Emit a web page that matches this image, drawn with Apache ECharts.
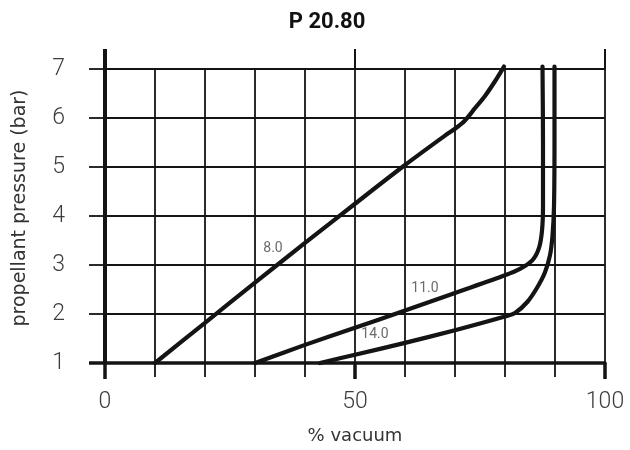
<!DOCTYPE html>
<html>
<head>
<meta charset="utf-8">
<script src="https://cdn.jsdelivr.net/npm/echarts@6/dist/echarts.min.js"></script>
<style>
  html, body { margin: 0; padding: 0; background: #fff; }
  #chart { width: 630px; height: 450px; }
</style>
</head>
<body>
<div id="chart"></div>
<script>
// ---- data ----
const titleText = 'P 20.80';
const xName = '% vacuum';
const yName = 'propellant pressure (bar)';
const xTickLabels = [0, 50, 100];
const yTickLabels = [1, 2, 3, 4, 5, 6, 7];

const curveNames = ['8.0', '11.0', '14.0'];
const curve80 = [[10, 1], [20, 1.82], [30, 2.64], [40, 3.45], [50, 4.25], [60, 5.04], [68, 5.64], [70, 5.78], [72, 5.95], [74, 6.2], [76, 6.45], [78, 6.75], [79.8, 7.05]];
const curve110 = [[30, 1], [40, 1.37], [50, 1.72], [60, 2.07], [70, 2.43], [80, 2.79], [83, 2.92], [85.5, 3.1], [86.8, 3.35], [87.4, 3.7], [87.6, 4.2], [87.6, 5.5], [87.5, 7.05]];
const curve140 = [[43, 1], [50, 1.17], [60, 1.41], [70, 1.67], [80, 1.95], [82, 2.02], [84.5, 2.25], [86.5, 2.55], [88, 2.85], [89, 3.2], [89.5, 3.6], [89.8, 4.2], [89.9, 5.5], [89.9, 7.05]];
const curveLabelPos = [[33.6, 3.33], [64, 2.53], [54, 1.58]];

// ---- chart ----
const chart = echarts.init(document.getElementById('chart'), null, { renderer: 'canvas' });
const ink = '#141414';
const tickFont = "Roboto, 'DejaVu Sans Condensed', sans-serif";

function curveSeries(name, data, labelPos) {
  return {
    name: name,
    type: 'line',
    xAxisIndex: 0,
    yAxisIndex: 0,
    data: data,
    smooth: 0.3,
    showSymbol: false,
    symbol: 'none',
    clip: false,
    lineStyle: { color: ink, width: 4.2, cap: 'round', join: 'round' },
    markPoint: {
      symbol: 'circle',
      symbolSize: 0,
      silent: true,
      data: [{ coord: labelPos, value: name }],
      label: {
        show: true,
        position: 'inside',
        formatter: name,
        color: '#6a6a6a',
        fontFamily: "Roboto, 'Liberation Sans', sans-serif",
        fontSize: 14
      }
    }
  };
}

const curves = [curve80, curve110, curve140];

chart.setOption({
  animation: false,
  backgroundColor: '#ffffff',
  title: {
    text: titleText,
    left: 322,
    top: 6,
    textAlign: 'center',
    textStyle: { fontFamily: 'Roboto, sans-serif', fontWeight: 'bold', fontSize: 22, color: '#111' }
  },
  grid: { left: 105, right: 25, top: 69, bottom: 87, containLabel: false },
  xAxis: [
    {
      type: 'value', position: 'bottom', min: 0, max: 100, interval: 10,
      axisLine: { show: true, lineStyle: { color: ink, width: 3.5 } },
      axisTick: { show: true, length: 14, lineStyle: { color: ink, width: 1.8 } },
      splitLine: { show: true, lineStyle: { color: ink, width: 1.8 } },
      axisLabel: {
        margin: 28,
        formatter: v => xTickLabels.includes(v) ? String(v) : '',
        fontFamily: tickFont, fontWeight: 300, fontSize: 23, color: '#3c3c3c'
      },
      name: xName, nameLocation: 'middle', nameGap: 64,
      nameTextStyle: { fontFamily: "'DejaVu Sans', sans-serif", fontSize: 18, color: '#333' }
    },
    {
      type: 'value', position: 'bottom', min: 0, max: 100, interval: 50,
      axisLine: { show: false },
      axisTick: { show: true, length: 16, lineStyle: { color: ink, width: 3.5 } },
      splitLine: { show: false },
      axisLabel: { show: false }
    },
    {
      type: 'value', position: 'top', min: 0, max: 100, interval: 50,
      axisLine: { show: false },
      axisTick: { show: true, length: 20, lineStyle: { color: ink, width: 2 } },
      splitLine: { show: false },
      axisLabel: { show: false }
    },
    {
      type: 'category', position: 'top', data: ['0', '100'], boundaryGap: false,
      axisLine: { show: false },
      axisTick: { show: true, length: 20, interval: (i) => i === 0, lineStyle: { color: ink, width: 4 } },
      splitLine: { show: false },
      axisLabel: { show: false }
    }
  ],
  yAxis: [
    {
      type: 'value', min: 1, max: 7, interval: 1,
      axisLine: { show: true, lineStyle: { color: ink, width: 4 } },
      axisTick: { show: true, length: 16, lineStyle: { color: ink, width: 1.8 } },
      splitLine: { show: true, lineStyle: { color: ink, width: 1.8 } },
      axisLabel: {
        margin: 40,
        formatter: v => yTickLabels.includes(v) ? String(v) : '',
        fontFamily: tickFont, fontWeight: 300, fontSize: 23, color: '#3c3c3c'
      },
      name: yName, nameLocation: 'middle', nameGap: 75, nameRotate: 90,
      nameTextStyle: { fontFamily: "'DejaVu Sans', sans-serif", fontSize: 19, color: '#333', padding: [0, 0, 0, 16] }
    },
    {
      type: 'category', position: 'left', data: ['1', '7'], boundaryGap: false,
      axisLine: { show: false },
      axisTick: { show: true, length: 16, interval: (i) => i === 0, lineStyle: { color: ink, width: 3.5 } },
      splitLine: { show: false },
      axisLabel: { show: false }
    }
  ],
  series: curves.map((c, i) => curveSeries(curveNames[i], c, curveLabelPos[i]))
});
</script>
</body>
</html>
